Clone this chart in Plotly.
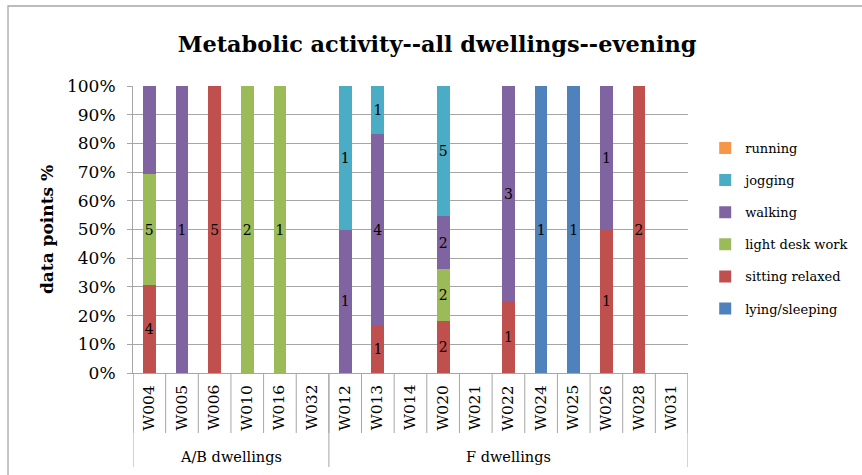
import plotly.graph_objects as go

# Dwellings on the x axis and the group each one belongs to
dwellings = ["W004", "W005", "W006", "W010", "W016", "W032",
             "W012", "W013", "W014", "W020", "W021", "W022",
             "W024", "W025", "W026", "W028", "W031"]
groups = ["A/B dwellings"] * 6 + ["F dwellings"] * 11

# Number of data points per activity level for each dwelling (evening)
lying_sleeping = [0, 0, 0, 0, 0, 0, 0, 0, 0, 0, 0, 0, 1, 1, 0, 0, 0]
sitting_relaxed = [4, 0, 5, 0, 0, 0, 0, 1, 0, 2, 0, 1, 0, 0, 1, 2, 0]
light_desk_work = [5, 0, 0, 2, 1, 0, 0, 0, 0, 2, 0, 0, 0, 0, 0, 0, 0]
walking = [4, 1, 0, 0, 0, 0, 1, 4, 0, 2, 0, 3, 0, 0, 1, 0, 0]
jogging = [0, 0, 0, 0, 0, 0, 1, 1, 0, 5, 0, 0, 0, 0, 0, 0, 0]
running = [0, 0, 0, 0, 0, 0, 0, 0, 0, 0, 0, 0, 0, 0, 0, 0, 0]

y_ticks = [0, 10, 20, 30, 40, 50, 60, 70, 80, 90, 100]
y_tick_labels = ["0%", "10%", "20%", "30%", "40%", "50%",
                 "60%", "70%", "80%", "90%", "100%"]

series = [
    ("lying/sleeping", lying_sleeping, "#4F81BD"),
    ("sitting relaxed", sitting_relaxed, "#C0504D"),
    ("light desk work", light_desk_work, "#9BBB59"),
    ("walking", walking, "#8064A2"),
    ("jogging", jogging, "#4BACC6"),
    ("running", running, "#F79646"),
]

totals = [sum(s[1][i] for s in series) for i in range(len(dwellings))]

SERIF = "DejaVu Serif"
GRID = "#A6A6A6"

fig = go.Figure()
for k, (name, counts, color) in enumerate(series):
    pct = [c / t * 100 if t and c else None for c, t in zip(counts, totals)]
    labels = [str(c) if c else "" for c in counts]
    fig.add_trace(go.Bar(
        x=dwellings, y=pct, name=name, legendgroup=name,
        legendrank=1000 - k,  # top of the stack listed first
        marker=dict(color=color, line=dict(width=0)),
        text=labels, textposition="inside", insidetextanchor="middle",
        constraintext="none", textangle=0,
        textfont=dict(family=SERIF, size=14, color="black"),
        cliponaxis=False,
    ))

# Category separators below the axis and group dividers
n = len(dwellings)
shapes = []
for i in range(n + 1):
    shapes.append(dict(type="line", xref="x", yref="paper",
                       x0=i - 0.5, x1=i - 0.5, y0=0, y1=-0.209,
                       line=dict(color=GRID, width=1)))
bounds = [0] + [i for i in range(1, n) if groups[i] != groups[i - 1]] + [n]
for b in bounds:
    shapes.append(dict(type="line", xref="x", yref="paper",
                       x0=b - 0.5, x1=b - 0.5, y0=0, y1=-0.3275,
                       line=dict(color=GRID, width=1)))
# Outer chart frame
shapes.append(dict(type="rect", xref="paper", yref="paper",
                   x0=-0.2252, x1=1.4, y0=-0.5, y1=1.2787,
                   line=dict(color=GRID, width=1.3)))

annotations = []
for i, d in enumerate(dwellings):
    annotations.append(dict(x=i, y=-0.12, xref="x", yref="paper", text=d,
                            textangle=-90, showarrow=False,
                            xanchor="center", yanchor="middle",
                            font=dict(family=SERIF, size=15.5, color="black")))
for a, b in zip(bounds[:-1], bounds[1:]):
    annotations.append(dict(x=(a + b - 1) / 2, y=-0.293, xref="x", yref="paper",
                            text=groups[a], showarrow=False,
                            xanchor="center", yanchor="middle",
                            font=dict(family=SERIF, size=14.5, color="black")))

fig.update_layout(
    width=862, height=475,
    margin=dict(l=133, r=174, t=86, b=102, autoexpand=False),
    paper_bgcolor="white", plot_bgcolor="white",
    barmode="stack", bargap=0.61,
    title=dict(text="<b>Metabolic activity--all dwellings--evening</b>",
               x=0.507, xref="container", xanchor="center",
               y=0.907, yref="container", yanchor="middle",
               font=dict(family=SERIF, size=22.4, color="black")),
    xaxis=dict(type="category", categoryorder="array", categoryarray=dwellings,
               range=[-0.5, n - 0.5], showticklabels=False, showgrid=False,
               showline=True, linecolor=GRID, linewidth=1, ticks=""),
    yaxis=dict(range=[0, 100], tickvals=y_ticks, ticktext=y_tick_labels,
               showgrid=True, gridcolor=GRID, gridwidth=1,
               showline=True, linecolor=GRID, linewidth=1,
               ticks="outside", ticklen=5, tickcolor=GRID,
               ticklabelstandoff=8,
               tickfont=dict(family=SERIF, size=17, color="black"),
               title=dict(text="<b>data points %</b>", standoff=9,
                          font=dict(family=SERIF, size=17, color="black")),
               zeroline=False),
    legend=dict(x=1.031, y=0.836, xanchor="left", yanchor="top",
                traceorder="grouped", tracegroupgap=12.2,
                font=dict(family=SERIF, size=13, color="black"),
                bgcolor="rgba(0,0,0,0)"),
    shapes=shapes, annotations=annotations,
    font=dict(family=SERIF, color="black"),
)

fig.write_html("out.html")
